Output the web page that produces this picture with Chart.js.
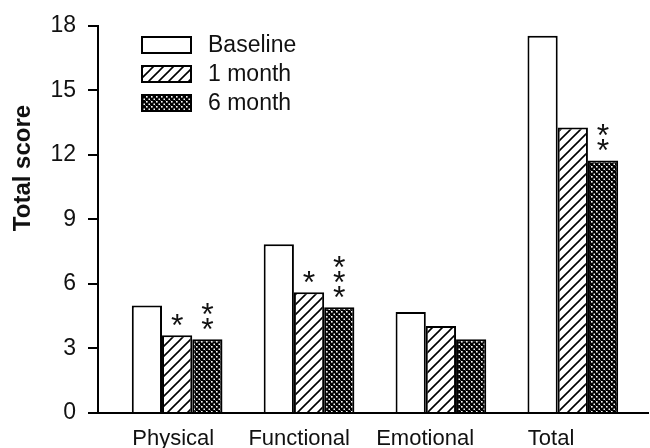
<!DOCTYPE html>
<html>
<head>
<meta charset="utf-8">
<script src="https://cdn.jsdelivr.net/npm/chart.js@4"></script>
<style>
  html, body { margin: 0; padding: 0; background: #fff; }
  #wrap { width: 650px; height: 448px; }
</style>
</head>
<body>
<div id="wrap"><canvas id="grafico" width="650" height="448"></canvas></div>
<script>
// datos
const categorias = ['Physical', 'Functional', 'Emotional', 'Total'];
const series = ['Baseline', '1 month', '6 month'];
const baseline = [5.0, 7.84, 4.69, 17.54];
const mes1 = [3.62, 5.61, 4.04, 13.27];
const mes6 = [3.43, 4.92, 3.43, 11.74];
const estrellas1 = ['*', '*', '', ''];
const estrellas6 = ['**', '***', '', '**'];
const ticksY = [0, 3, 6, 9, 12, 15, 18];

const FUENTE = "'Liberation Sans', Arial, sans-serif";

// patrones de relleno
function patronRayas() {
    const c = document.createElement('canvas');
    c.width = 10; c.height = 10;
    const g = c.getContext('2d');
    g.fillStyle = '#fff';
    g.fillRect(0, 0, 10, 10);
    g.strokeStyle = '#000';
    g.lineWidth = 1.6;
    g.beginPath();
    g.moveTo(-2, 12); g.lineTo(12, -2);
    g.moveTo(-2, 2); g.lineTo(2, -2);
    g.moveTo(8, 12); g.lineTo(12, 8);
    g.stroke();
    return g.createPattern(c, 'repeat');
}

function patronPuntos() {
    const c = document.createElement('canvas');
    c.width = 5; c.height = 5;
    const g = c.getContext('2d');
    g.fillStyle = '#000';
    g.fillRect(0, 0, 5, 5);
    g.fillStyle = '#fff';
    g.fillRect(1, 1, 1.6, 1.6);
    g.fillRect(3.5, 3.5, 1.5, 1.5);
    g.fillRect(0, 0, 0.5, 0.5);
    return g.createPattern(c, 'repeat');
}

const rellenos = ['#fff', patronRayas(), patronPuntos()];
const valores = [baseline, mes1, mes6];

const datasets = series.map((nombre, s) => ({
    label: nombre,
    data: valores[s].map((v, i) => ({ x: i, y: v })),
    backgroundColor: rellenos[s],
    borderColor: '#000',
    borderWidth: 2,
    borderSkipped: 'bottom',
    categoryPercentage: 0.72,
    barPercentage: 1.0
}));

// titulo eje Y, leyenda y asteriscos
const extras = {
    id: 'extras',
    afterDraw(chart) {
        const ctx = chart.ctx;
        ctx.save();

        // titulo Y
        ctx.translate(23, 168);
        ctx.rotate(-Math.PI / 2);
        ctx.fillStyle = '#111';
        ctx.font = "bold 24px " + FUENTE;
        ctx.textAlign = 'center';
        ctx.textBaseline = 'middle';
        ctx.fillText('Total score', 0, 0);
        ctx.setTransform(1, 0, 0, 1, 0, 0);

        // leyenda
        series.forEach((nombre, s) => {
            const y = 45 + s * 29;
            ctx.fillStyle = rellenos[s];
            ctx.fillRect(142, y - 8, 49, 16);
            ctx.strokeStyle = '#000';
            ctx.lineWidth = 2;
            ctx.strokeRect(142, y - 8, 49, 16);
            ctx.fillStyle = '#111';
            ctx.font = "23px " + FUENTE;
            ctx.textAlign = 'left';
            ctx.textBaseline = 'middle';
            ctx.fillText(nombre, 208, y + 1);
        });

        // asteriscos
        ctx.font = "32px " + FUENTE;
        ctx.textAlign = 'center';
        ctx.textBaseline = 'alphabetic';
        const m = ctx.measureText('*');
        const centro = (m.actualBoundingBoxAscent - m.actualBoundingBoxDescent) / 2;
        [[1, estrellas1], [2, estrellas6]].forEach(([d, marcas]) => {
            const meta = chart.getDatasetMeta(d);
            marcas.forEach((txt, i) => {
                const barra = meta.data[i];
                for (let k = 0; k < txt.length; k++) {
                    const cy = barra.y - 15 - k * 15;
                    ctx.fillText('*', barra.x, cy + centro);
                }
            });
        });
        ctx.restore();
    }
};

new Chart(document.getElementById('grafico').getContext('2d'), {
    type: 'bar',
    data: { datasets: datasets },
    options: {
        responsive: false,
        animation: false,
        layout: { padding: { left: 0, right: 2, top: 25, bottom: 0 } },
        plugins: { legend: { display: false }, tooltip: { enabled: false } },
        scales: {
            x: {
                type: 'linear',
                offset: false,
                min: -0.6,
                max: 3.57,
                grid: { display: false },
                border: { display: true, color: '#000', width: 2 },
                afterBuildTicks(axis) {
                    axis.ticks = categorias.map((c, i) => ({ value: i * 0.955 - 0.03 }));
                },
                afterFit(axis) { axis.height = 35; },
                ticks: {
                    callback: (v, i) => categorias[i],
                    font: { size: 22, family: FUENTE },
                    color: '#111',
                    padding: 5,
                    maxRotation: 0,
                    autoSkip: false
                }
            },
            y: {
                min: 0,
                max: 18,
                afterBuildTicks(axis) {
                    axis.ticks = ticksY.map(v => ({ value: v }));
                },
                afterFit(axis) { axis.width = 98; },
                grid: {
                    drawOnChartArea: false,
                    drawTicks: true,
                    tickLength: 10,
                    tickColor: '#000',
                    lineWidth: 2
                },
                border: { display: true, color: '#000', width: 2 },
                ticks: {
                    font: { size: 23, family: FUENTE },
                    color: '#111',
                    padding: 12
                }
            }
        }
    },
    plugins: [extras]
});
</script>
</body>
</html>
